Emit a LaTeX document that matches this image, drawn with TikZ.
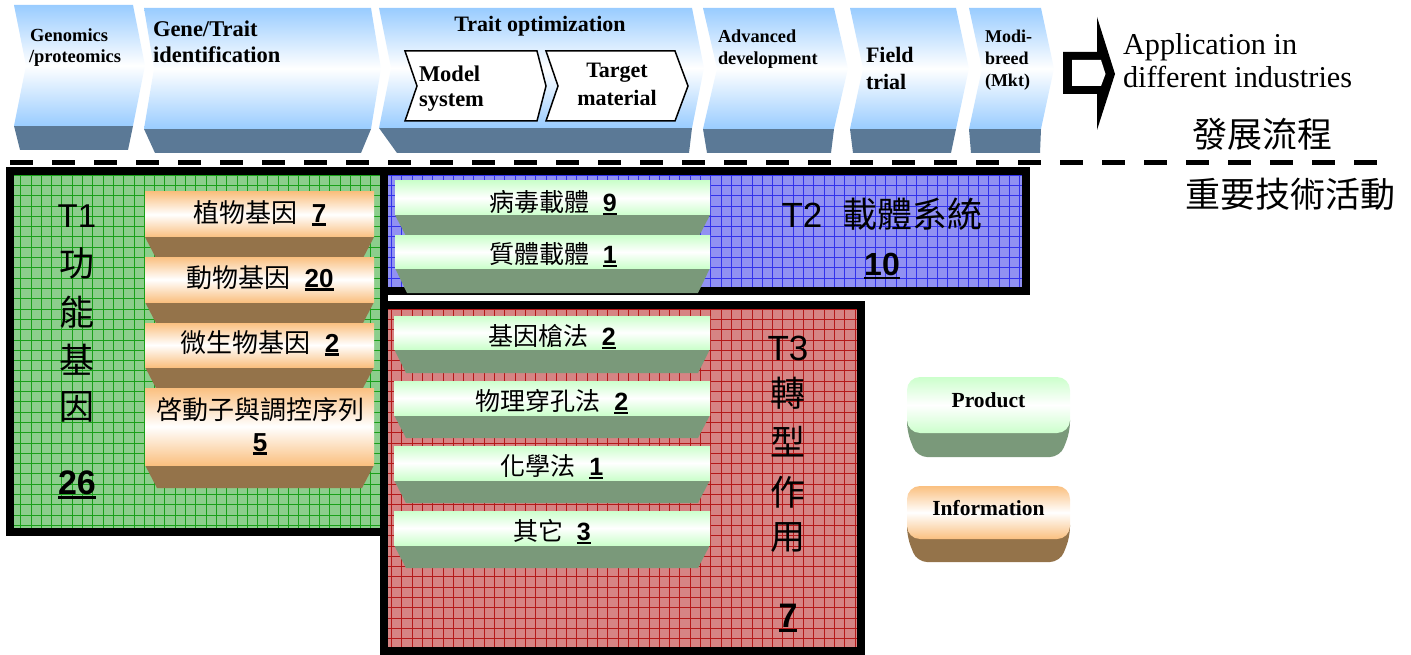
\documentclass[tikz,border=0pt]{standalone}
\usepackage{fontspec}
\setmainfont{Liberation Serif}
\setsansfont{Liberation Sans}
\newfontfamily\cjk{Noto Sans CJK TC}
\usetikzlibrary{calc}

\definecolor{cBlue}{RGB}{153,204,255}
\definecolor{cBlueD}{RGB}{91,121,150}
\definecolor{cOr}{RGB}{250,192,128}
\definecolor{cOrD}{RGB}{148,115,74}
\definecolor{cGr}{RGB}{204,255,204}
\definecolor{cGrD}{RGB}{122,153,122}
\definecolor{tOneF}{RGB}{140,206,140}
\definecolor{tOneG}{RGB}{25,160,25}
\definecolor{tTwoF}{RGB}{145,145,242}
\definecolor{tTwoG}{RGB}{50,50,235}
\definecolor{tThrF}{RGB}{214,132,132}
\definecolor{tThrG}{RGB}{180,25,25}

\newsavebox\numbox
\newcommand{\unum}[1]{\sbox\numbox{\sffamily\bfseries #1}\usebox\numbox\llap{\rule[-0.14em]{\wd\numbox}{0.09em}}}

% chevron: xl, xr, ytop, ybot, ydark, depth, dark-left-bottom, dark-right-bottom
\newcommand{\chev}[8]{%
  \fill[cBlueD] (#1,#4) -- (#2,#4) -- (#8,#5) -- (#7,#5) -- cycle;
  \shade[top color=cBlue, bottom color=cBlue, middle color=white]
    (#1,#3) -- (#2,#3) -- ({#2+#6},{(#3+#4)/2}) -- (#2,#4) -- (#1,#4) -- ({#1+#6},{(#3+#4)/2}) -- cycle;}

% slab: name, face style, dark colour, x1, x2, ytop, ymid, ybot
\newcommand{\slab}[8]{%
  \fill[#3] (#4,#7) -- (#5,#7) -- ({#5-12},#8) -- ({#4+12},#8) -- cycle;
  \node[#2, minimum width={#5-#4}, minimum height={#7-#6}] (#1) at ({(#4+#5)/2},{(#6+#7)/2}) {};}

% grid lines: colour, x1, y1, x2, y2 (page coordinates, y down)
\newcommand{\gridbox}[5]{%
  \begin{scope}
    \clip (#2,#3) rectangle (#4,#5);
    \foreach \k in {0,...,100} {
      \pgfmathsetmacro{\gx}{\k*10.3}
      \draw[#1, line width=0.8] (\gx,#3) -- (\gx,#5);
      \draw[#1, line width=0.8] (#2,\gx) -- (#4,\gx);
    }
  \end{scope}}

\begin{document}
\begin{tikzpicture}[x=1pt,y=-1pt,
  lbl/.style={inner sep=0, outer sep=0},
  en/.style={lbl, anchor=base west, font=\bfseries\fontsize{#1}{#1}\selectfont},
  enc/.style={lbl, anchor=base, font=\bfseries\fontsize{#1}{#1}\selectfont},
  ofacestyle/.style={shade, top color=cOr, bottom color=cOr, middle color=white, inner sep=0, outer sep=0},
  gfacestyle/.style={shade, top color=cGr, bottom color=cGr, middle color=white, inner sep=0, outer sep=0},
  boxtxt/.style={lbl, font=\cjk\fontsize{25}{32}\selectfont, align=center},
  vcjk/.style={lbl, font=\cjk\fontsize{35}{35}\selectfont},
  inchev/.style={draw=black, line width=1.5, fill=white, line join=miter},
  frame/.style={draw=black, line width=8},
]
\useasboundingbox (0,0) rectangle (1411,655);

% ---------- top chevrons ----------
\chev{14}{133}{5}{126}{150}{12}{20}{128}
\chev{144}{371}{8}{129}{153}{10}{155}{361}
\chev{379}{692}{8}{128}{153}{12}{397}{689}
\chev{703}{834}{8}{129}{153}{14}{707}{831}
\chev{850}{956}{8}{129}{153}{13}{853}{951}
\chev{969}{1041}{8}{129}{153}{13}{971}{1040}

\draw[inchev] (405,51) -- (537,51) -- (546,86) -- (537,121) -- (405,121) -- (417,86) -- cycle;
\draw[inchev] (546,51) -- (675,51) -- (688,86) -- (675,121) -- (546,121) -- (558,86) -- cycle;

\node[en=18.5] (c1a) at (30,41.5) {Genomics};
\node[en=18.5] (c1b) at (29,63) {/proteomics};
\node[en=22.5] (c2a) at (153,37) {Gene/Trait};
\node[en=22.5] (c2b) at (153,63) {identification};
\node[enc=22] (c3a) at (540,32) {Trait optimization};
\node[en=22.5] (c3b) at (419,82) {Model};
\node[en=22.5] (c3c) at (419,107) {system};
\node[enc=22] (c3d) at (617,78) {Target};
\node[enc=22] (c3e) at (617,106) {material};
\node[en=18.3] (c4a) at (718,43) {Advanced};
\node[en=18.3] (c4b) at (718,65) {development};
\node[en=22] (c5a) at (866,63) {Field};
\node[en=22] (c5b) at (866,90) {trial};
\node[en=18] (c6a) at (985,43) {Modi-};
\node[en=18] (c6b) at (985,65) {breed};
\node[en=18] (c6c) at (985,87) {(Mkt)};

% big arrow
\fill[black] (1063,52) -- (1097,52) -- (1097,17) -- (1115,74) -- (1097,130) -- (1097,94) -- (1063,94) -- cycle;
\fill[white] (1072,60) -- (1101,60) -- (1105.5,74) -- (1101,86) -- (1072,86) -- cycle;

\node[lbl, anchor=base west, font=\fontsize{30.3}{30.3}\selectfont] (app1) at (1123,55) {Application in};
\node[lbl, anchor=base west, font=\fontsize{30.3}{30.3}\selectfont] (app2) at (1123,88) {different industries};

\node[lbl, font=\cjk\fontsize{35}{35}\selectfont] (flow) at (1262,134) {發展流程};
\node[lbl, font=\cjk\fontsize{35}{35}\selectfont] (act) at (1290,194) {重要技術活動};

% dashed separator
\coordinate (dl) at (10,163);
\coordinate (dr) at (1377,163);
\draw[line width=5, dash pattern=on 23pt off 19pt] (dl) -- (dr);

% ---------- T boxes ----------
\fill[tOneF] (10,171) rectangle (384,532);
\gridbox{tOneG}{10}{171}{384}{532}
\fill[tThrF] (384,305) rectangle (861,651);
\gridbox{tThrG}{384}{305}{861}{651}
\fill[tTwoF] (384,171) rectangle (1026,291);
\gridbox{tTwoG}{384}{171}{1026}{291}
\draw[frame] (10,171) rectangle (384,532);
\draw[frame] (384,305) rectangle (861,651);
\draw[frame] (384,171) rectangle (1026,291);

% ---------- T1 ----------
\slab{o1}{ofacestyle}{cOrD}{145}{374}{192}{237}{260}
\slab{o2}{ofacestyle}{cOrD}{145}{374}{257}{302}{325}
\slab{o3}{ofacestyle}{cOrD}{145}{374}{323}{367}{390}
\slab{o4}{ofacestyle}{cOrD}{145}{374}{388}{465}{488}
\node[boxtxt, font=\cjk\fontsize{26}{32}\selectfont] (o1t) at (260,213) {植物基因\hspace{0.55em}\unum{7}};
\node[boxtxt, font=\cjk\fontsize{26}{32}\selectfont] (o2t) at (260,278) {動物基因\hspace{0.55em}\unum{20}};
\node[boxtxt, font=\cjk\fontsize{26}{32}\selectfont] (o3t) at (260,343) {微生物基因\hspace{0.55em}\unum{2}};
\node[boxtxt, font=\cjk\fontsize{26}{32}\selectfont] (o4t) at (260,426) {啓動子與調控序列\\\unum{5}};

\node[lbl, anchor=base, font=\sffamily\fontsize{33}{33}\selectfont] (t1l) at (77,228) {T1};
\node[vcjk] (t1c1) at (77,263) {功};
\node[vcjk] (t1c2) at (77,312) {能};
\node[vcjk] (t1c3) at (77,360) {基};
\node[vcjk] (t1c4) at (77,407) {因};
\node[lbl, anchor=base, font=\fontsize{34}{34}\selectfont] (t1n) at (77,494) {\unum{26}};

% ---------- T2 ----------
\slab{g1}{gfacestyle}{cGrD}{395}{710}{181}{215}{238}
\slab{g2}{gfacestyle}{cGrD}{395}{710}{236}{268}{293}
\node[boxtxt] (g1t) at (553,203) {病毒載體\hspace{0.55em}\unum{9}};
\node[boxtxt] (g2t) at (553,255) {質體載體\hspace{0.55em}\unum{1}};
\node[lbl, font=\cjk\fontsize{35}{35}\selectfont] (t2l) at (882,214) {{\sffamily T2}\hspace{20pt}載體系統};
\node[lbl, anchor=base, font=\fontsize{32}{32}\selectfont] (t2n) at (882,275) {\unum{10}};

% ---------- T3 ----------
\slab{s1}{gfacestyle}{cGrD}{394}{710}{316}{349}{373}
\slab{s2}{gfacestyle}{cGrD}{394}{710}{381}{415}{438}
\slab{s3}{gfacestyle}{cGrD}{394}{710}{446}{480}{503}
\slab{s4}{gfacestyle}{cGrD}{394}{710}{511}{545}{568}
\node[boxtxt] (s1t) at (552,337) {基因槍法\hspace{0.55em}\unum{2}};
\node[boxtxt] (s2t) at (552,402) {物理穿孔法\hspace{0.55em}\unum{2}};
\node[boxtxt] (s3t) at (552,467) {化學法\hspace{0.55em}\unum{1}};
\node[boxtxt] (s4t) at (552,532) {其它\hspace{0.55em}\unum{3}};

\node[lbl, anchor=base, font=\sffamily\fontsize{35}{35}\selectfont] (t3l) at (788,360) {T3};
\node[vcjk] (t3c1) at (788,393) {轉};
\node[vcjk] (t3c2) at (788,442) {型};
\node[vcjk] (t3c3) at (788,492) {作};
\node[vcjk] (t3c4) at (788,538) {用};
\node[lbl, anchor=base, font=\fontsize{34}{34}\selectfont] (t3n) at (788,627) {\unum{7}};

% ---------- legend ----------
\fill[cGrD, rounded corners=10] (907,410) -- (907,432) -- (917,457) -- (1060,457) -- (1070,432) -- (1070,410) -- cycle;
\node[gfacestyle, rounded corners=13, minimum width=163, minimum height=56] (prod) at (988.5,405) {};
\node[enc=21.5] (prodt) at (988.5,407) {Product};
\fill[cOrD, rounded corners=10] (907,515) -- (907,537) -- (917,562) -- (1060,562) -- (1070,537) -- (1070,515) -- cycle;
\node[ofacestyle, rounded corners=13, minimum width=163, minimum height=53] (info) at (988.5,512.5) {};
\node[enc=21.5] (infot) at (988.5,515) {Information};
\end{tikzpicture}
\end{document}
